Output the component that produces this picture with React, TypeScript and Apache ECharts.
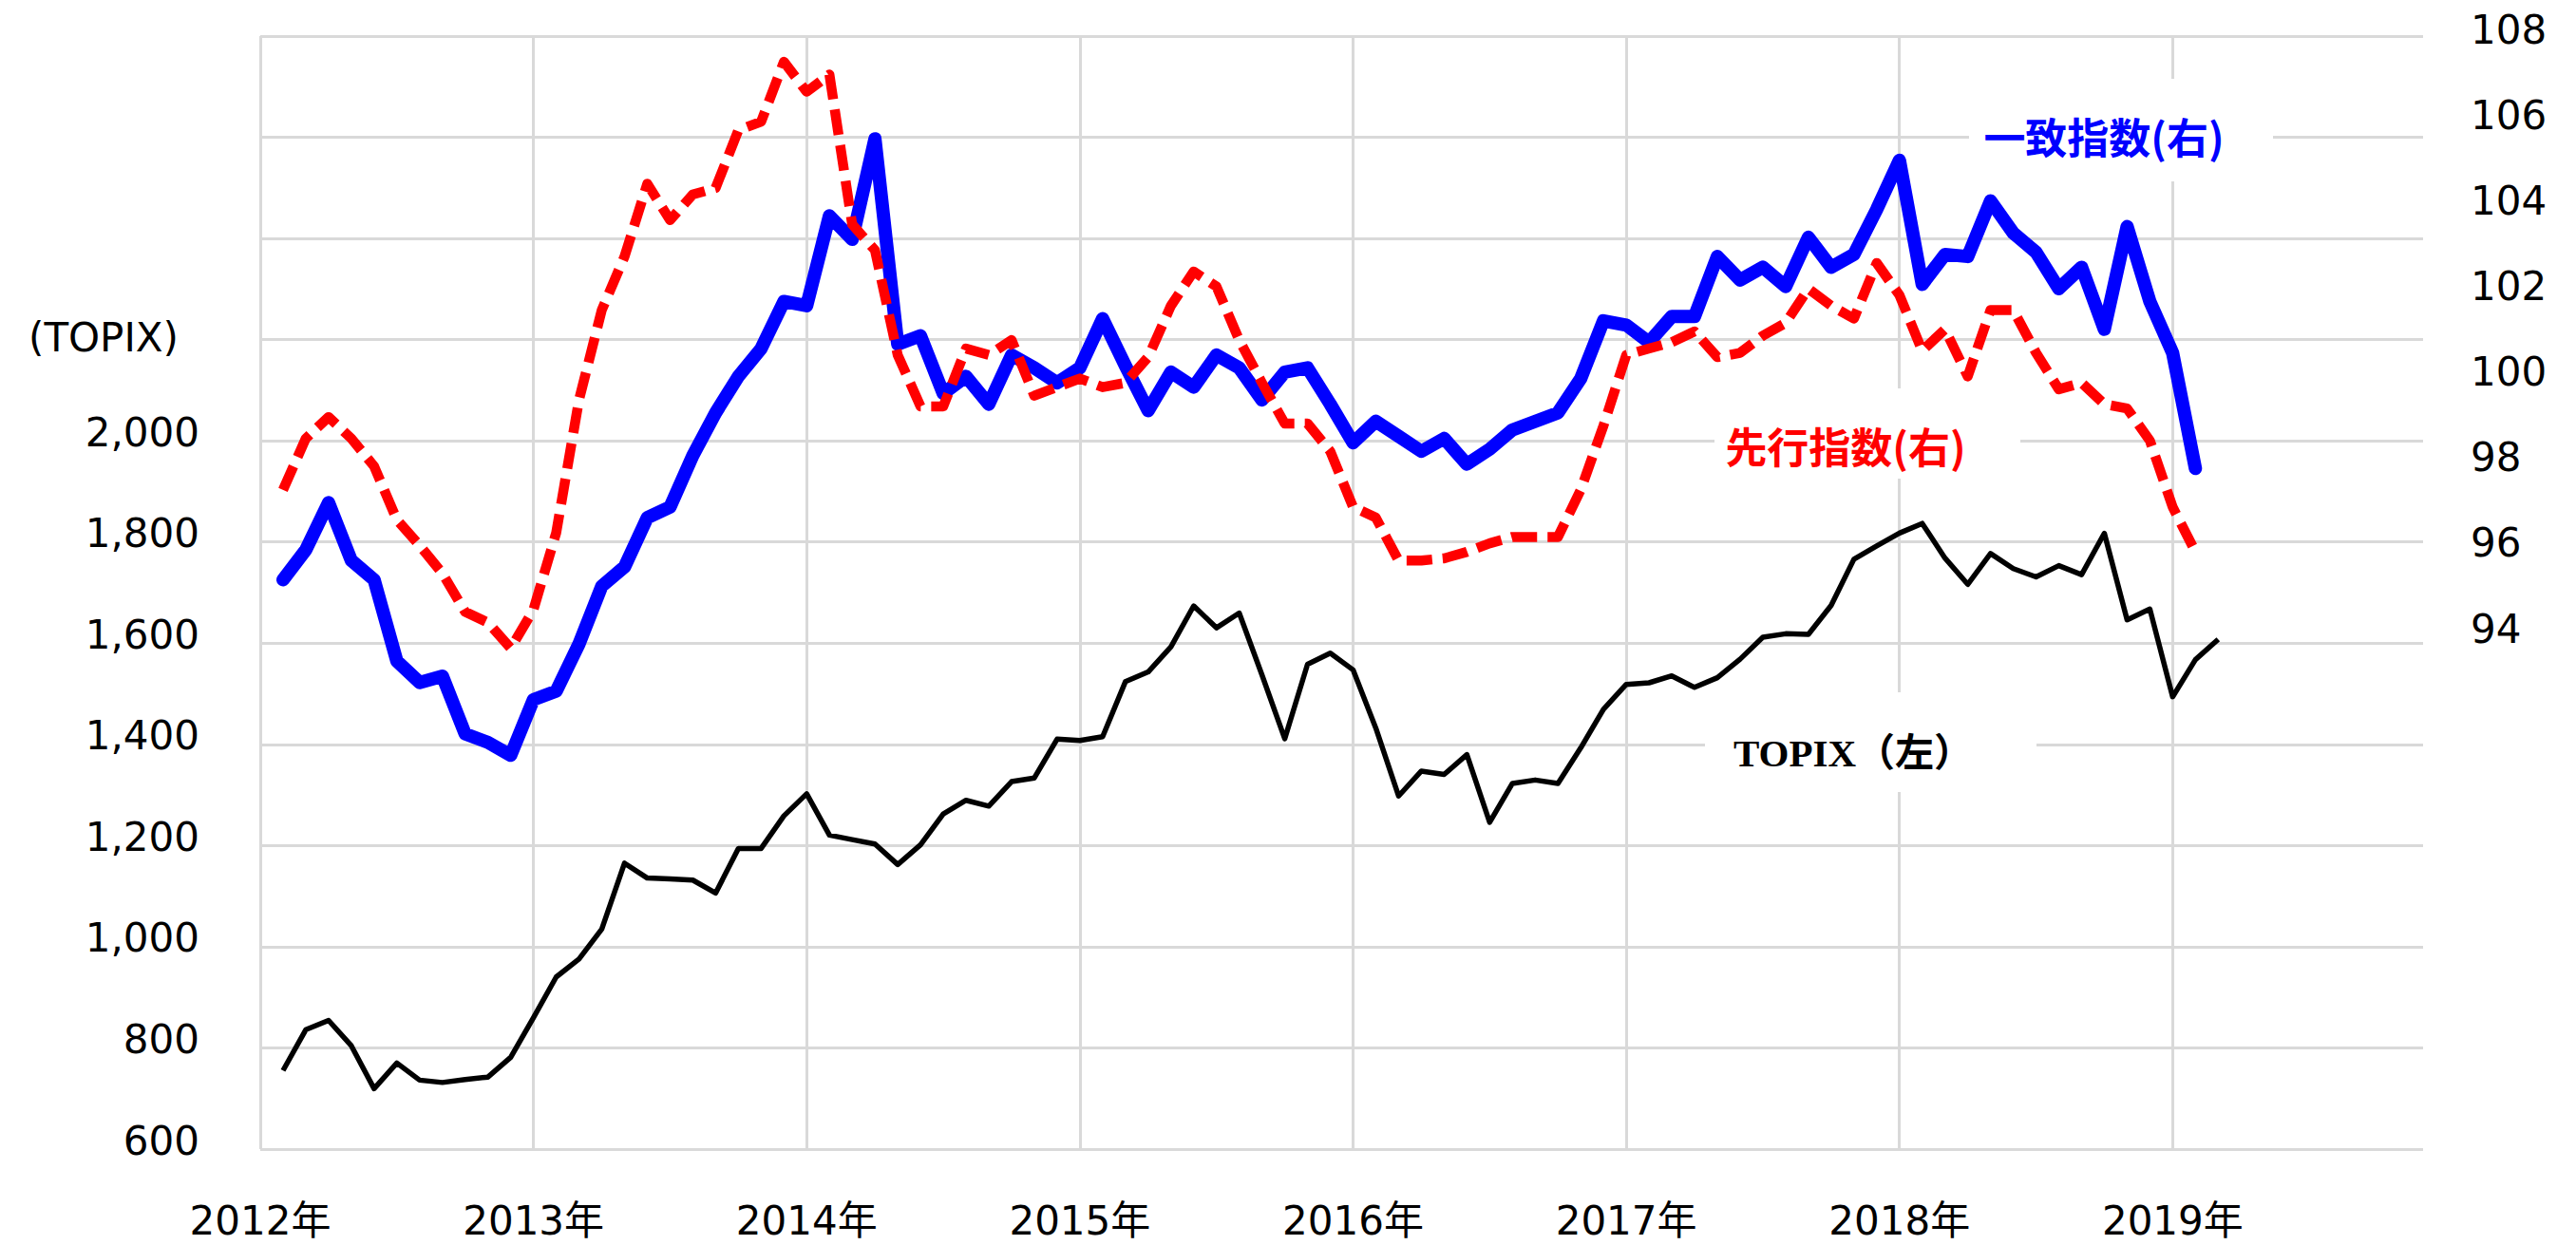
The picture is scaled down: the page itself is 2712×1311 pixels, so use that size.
import React, { useEffect, useRef } from "react";
import * as echarts from "echarts";

// ---------------- data ----------------
const START_YEAR = 2012; // x = 0 is 1 Jan 2012, one unit per month, points at month end
const YEARS = [2012, 2013, 2014, 2015, 2016, 2017, 2018, 2019];

// TOPIX month-end, Jan 2012 - Feb 2019 (left axis)
const topix = [
  755.27, 835.96, 854.35, 804.27, 719.49, 770.08, 736.31, 731.64, 737.42, 742.33, 781.46, 859.8,
  940.25, 975.66, 1034.71, 1165.13, 1135.78, 1133.84, 1131.7, 1106.05, 1194.1, 1194.26, 1258.66, 1302.29,
  1220.64, 1211.66, 1202.89, 1162.44, 1201.41, 1262.56, 1289.42, 1277.97, 1326.29, 1333.64, 1410.34, 1407.51,
  1415.07, 1523.85, 1543.11, 1592.79, 1673.65, 1630.4, 1659.52, 1537.05, 1411.16, 1558.2, 1580.25, 1547.3,
  1432.07, 1297.85, 1347.2, 1340.55, 1379.8, 1245.82, 1322.74, 1329.54, 1322.78, 1393.02, 1469.43, 1518.61,
  1521.67, 1535.32, 1512.6, 1531.8, 1568.37, 1611.9, 1618.61, 1617.41, 1674.75, 1765.96, 1792.08, 1817.56,
  1836.71, 1768.24, 1716.3, 1777.23, 1747.45, 1730.89, 1753.29, 1735.35, 1817.25, 1646.12, 1667.45, 1494.09,
  1567.49, 1607.66,
];

// CI coincident index, Jan 2012 - Jan 2019 (right axis)
const coincident = [
  95.3, 96.0, 97.1, 95.75, 95.3, 93.4, 92.9, 93.05, 91.7, 91.5, 91.2, 92.5,
  92.7, 93.8, 95.15, 95.6, 96.75, 97.0, 98.2, 99.2, 100.05, 100.7, 101.8, 101.7,
  103.8, 103.25, 105.6, 100.8, 101.0, 99.65, 100.05, 99.4, 100.55, 100.25, 99.9, 100.25,
  101.4, 100.3, 99.25, 100.15, 99.8, 100.55, 100.25, 99.5, 100.15, 100.25, 99.4, 98.5,
  99.0, 98.65, 98.3, 98.6, 98.0, 98.35, 98.8, 99.0, 99.2, 100.0, 101.35, 101.25,
  100.85, 101.45, 101.45, 102.85, 102.3, 102.6, 102.15, 103.3, 102.6, 102.9, 103.95, 105.1,
  102.2, 102.9, 102.85, 104.15, 103.4, 102.95, 102.1, 102.6, 101.15, 103.55, 101.8, 100.6,
  97.9,
];

// CI leading index, Jan 2012 - Jan 2019 (right axis)
const leading = [
  97.4, 98.6, 99.1, 98.6, 97.95, 96.7, 96.1, 95.45, 94.55, 94.3, 93.7, 94.6,
  96.4, 99.5, 101.6, 102.85, 104.55, 103.7, 104.3, 104.45, 105.8, 106.0, 107.4, 106.7,
  107.1, 103.6, 103.0, 100.55, 99.35, 99.35, 100.7, 100.55, 100.9, 99.6, 99.8, 100.0,
  99.8, 99.9, 100.5, 101.7, 102.5, 102.15, 100.9, 99.9, 98.95, 98.95, 98.3, 97.0,
  96.75, 95.75, 95.75, 95.8, 95.95, 96.15, 96.3, 96.3, 96.3, 97.4, 98.9, 100.55,
  100.7, 100.85, 101.1, 100.5, 100.6, 101.0, 101.3, 102.1, 101.7, 101.4, 102.7, 101.95,
  100.65, 101.15, 100.05, 101.6, 101.6, 100.6, 99.75, 99.9, 99.4, 99.3, 98.55, 97.0,
  95.95,
];

const LEFT_MIN = 600;
const LEFT_MAX = 2800;
const LEFT_STEP = 200;
const LEFT_LABEL_TOP = 2000;
const LEFT_TITLE_AT = 2200;
const RIGHT_MIN = 82;
const RIGHT_MAX = 108;
const RIGHT_STEP = 2;
const RIGHT_LABEL_MIN = 94;
const X_MAX = 95;

// ---------------- styles ----------------
const GRID = "#d9d9d9";
const GRID_W = 3;
const FS = 42;
const TICK_FONT = '"DejaVu Sans", "Noto Sans CJK JP", sans-serif';
const CJK_FONT = '"Noto Sans CJK JP", sans-serif';

const toPoints = (arr: number[]) => arr.map((v, i) => [i + 1, v]);

const fmtThousands = (v: number) => v.toLocaleString("en-US");

export default function App() {
  const ref = useRef<HTMLDivElement>(null);

  useEffect(() => {
    if (!ref.current) return;
    const chart = echarts.init(ref.current, null, { renderer: "svg" });

    const option: any = {
      animation: false,
      backgroundColor: "#ffffff",
      textStyle: { fontFamily: TICK_FONT },
      grid: {
        left: 274,
        top: 38,
        right: 161,
        bottom: 101,
        containLabel: false,
        outerBoundsMode: "none",
      },
      xAxis: {
        type: "value",
        min: 0,
        max: X_MAX,
        interval: 12,
        axisLine: { show: false },
        axisTick: { show: false },
        splitLine: {
          show: true,
          showMaxLine: false,
          lineStyle: { color: GRID, width: GRID_W },
        },
        axisLabel: {
          showMaxLabel: false,
          margin: 54,
          color: "#000",
          fontSize: FS,
          fontFamily: TICK_FONT,
          formatter: (v: number) => {
            const y = START_YEAR + v / 12;
            return v % 12 === 0 && YEARS.includes(y) ? `${y}年` : "";
          },
        },
      },
      yAxis: [
        {
          type: "value",
          position: "left",
          min: LEFT_MIN,
          max: LEFT_MAX,
          interval: LEFT_STEP,
          axisLine: { show: false },
          axisTick: { show: false },
          splitLine: { show: true, lineStyle: { color: GRID, width: GRID_W } },
          axisLabel: {
            margin: 64,
            color: "#000",
            fontSize: FS,
            fontFamily: TICK_FONT,
            formatter: (v: number) => {
              if (v === LEFT_TITLE_AT) return "{t|(TOPIX)}";
              if (v <= LEFT_LABEL_TOP) return `{n|${fmtThousands(v)}}`;
              return "";
            },
            rich: {
              n: { fontSize: FS, fontFamily: TICK_FONT, color: "#000", padding: [0, 0, 18, 0] },
              t: { fontSize: FS, fontFamily: TICK_FONT, color: "#000", padding: [0, 22, 4, 0] },
            },
          },
        },
        {
          type: "value",
          position: "right",
          min: RIGHT_MIN,
          max: RIGHT_MAX,
          interval: RIGHT_STEP,
          axisLine: { show: false },
          axisTick: { show: false },
          splitLine: { show: false },
          axisLabel: {
            margin: 50,
            color: "#000",
            fontSize: FS,
            fontFamily: TICK_FONT,
            formatter: (v: number) => (v >= RIGHT_LABEL_MIN ? `{n|${v}}` : ""),
            rich: {
              n: { fontSize: FS, fontFamily: TICK_FONT, color: "#000", padding: [0, 0, 14, 0] },
            },
          },
        },
      ],
      graphic: [
        { type: "rect", z: 1, silent: true, shape: { x: 2073, y: 83, width: 320, height: 108 }, style: { fill: "#ffffff" } },
        {
          type: "text", z: 1, silent: true, x: 2215, y: 143,
          style: { text: "一致指数(右)", fill: "#0000ff", font: `bold 44px ${CJK_FONT}`, align: "center", verticalAlign: "middle" },
        },
        { type: "rect", z: 1, silent: true, shape: { x: 1805, y: 409, width: 322, height: 95 }, style: { fill: "#ffffff" } },
        {
          type: "text", z: 1, silent: true, x: 1943, y: 469,
          style: { text: "先行指数(右)", fill: "#ff0000", font: `bold 44px ${CJK_FONT}`, align: "center", verticalAlign: "middle" },
        },
        { type: "rect", z: 1, silent: true, shape: { x: 1795, y: 729, width: 349, height: 105 }, style: { fill: "#ffffff" } },
        {
          type: "text", z: 1, silent: true, x: 1951, y: 793,
          style: { text: "TOPIX（左）", fill: "#000000", font: `bold 41px "Liberation Serif", ${CJK_FONT}`, align: "center", verticalAlign: "middle" },
        },
      ],
      series: [
        {
          name: "TOPIX（左）",
          type: "line",
          yAxisIndex: 0,
          data: toPoints(topix),
          symbol: "none",
          z: 2,
          lineStyle: { color: "#000000", width: 5.5, join: "round" },
          itemStyle: { color: "#000000" },
        },
        {
          name: "一致指数(右)",
          type: "line",
          yAxisIndex: 1,
          data: toPoints(coincident),
          symbol: "none",
          z: 3,
          lineStyle: { color: "#0000ff", width: 14, join: "round", cap: "round" },
          itemStyle: { color: "#0000ff" },
        },
        {
          name: "先行指数(右)",
          type: "line",
          yAxisIndex: 1,
          data: toPoints(leading),
          symbol: "none",
          z: 4,
          lineStyle: { color: "#ff0000", width: 10.5, type: [27, 11], join: "round" },
          itemStyle: { color: "#ff0000" },
        },
      ],
    };

    chart.setOption(option);
    return () => chart.dispose();
  }, []);

  return (
    <div
      ref={ref}
      style={{ position: "absolute", left: 0, top: 0, width: 2712, height: 1311, background: "#ffffff" }}
    />
  );
}
